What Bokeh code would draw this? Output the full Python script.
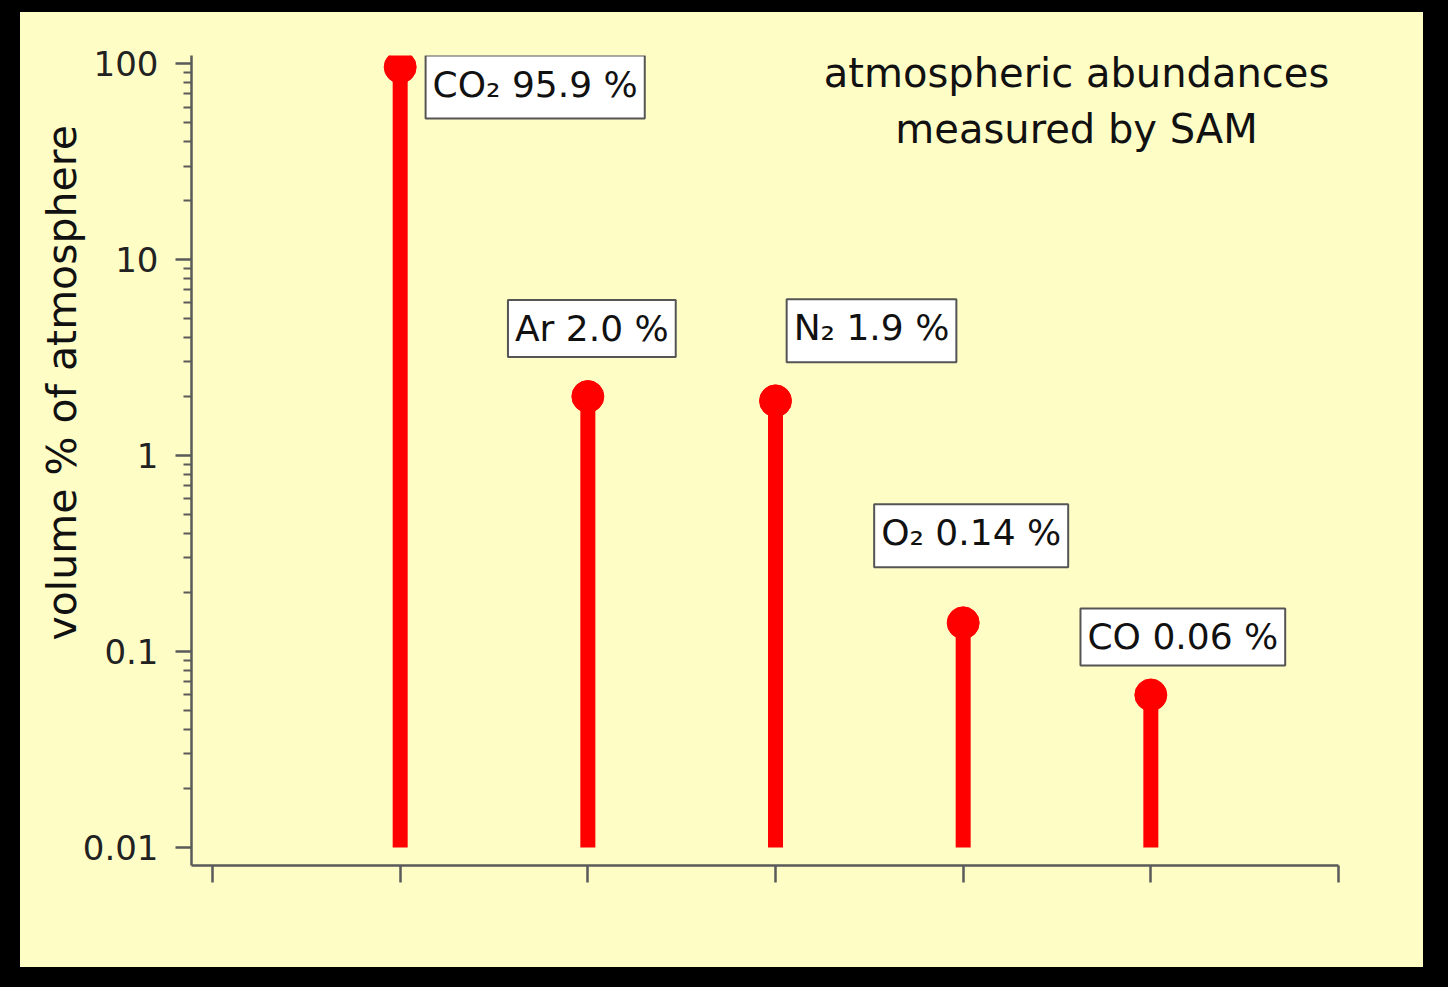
import math
from bokeh.plotting import figure
from bokeh.models import Range1d, FixedTicker, Label, ColumnDataSource, Title
from bokeh.layouts import column
from bokeh.embed import file_html
from bokeh.resources import INLINE

# ---------------- data ----------------
gases = ["CO₂", "Ar", "N₂", "O₂", "CO"]
abundance = [95.9, 2.0, 1.9, 0.14, 0.06]          # volume %
positions = [1, 2, 3, 4, 5]
baseline = 0.01
y_major = [0.01, 0.1, 1, 10, 100]
y_major_labels = ["0.01", "0.1", "1", "10", "100"]
x_ticks = [0, 1, 2, 3, 4, 5, 6]
title_lines = ["atmospheric abundances", "measured by SAM"]
y_label = "volume % of atmosphere"

# ---------------- layout / style ----------------
BG = "#FEFDC6"
FONT = "DejaVu Sans"
label_dx = [135, 4, 96, 8, 32]     # screen px offsets of label boxes
label_dy = [-20, 68, 70, 87, 58]
label_pad_bottom = [14, 8, 14, 14, 8]

src = ColumnDataSource(dict(
    x=positions, v=abundance, base=[baseline] * len(abundance),
))

p = figure(width=1403, height=955, y_axis_type="log",
           x_range=Range1d(-0.112, 6), y_range=Range1d(0.00809, 109.9),
           output_backend="svg", toolbar_location=None,
           min_border_left=171, min_border_right=85,
           min_border_top=43, min_border_bottom=102,
           background_fill_color=BG, border_fill_color=BG,
           outline_line_color=None, margin=(12, 25, 20, 20),
           styles={"background-color": BG})
p.grid.visible = False

# y axis
minor = [m * 10 ** e for e in range(-2, 2) for m in range(2, 10)]
ya = p.yaxis[0]
ya.ticker = FixedTicker(ticks=y_major, minor_ticks=minor)
ya.major_label_overrides = dict(zip(y_major, y_major_labels))
ya.axis_line_color = "#5a5a5a"
ya.axis_line_width = 2.5
ya.major_tick_line_color = "#5a5a5a"
ya.major_tick_line_width = 2.5
ya.minor_tick_line_color = "#5a5a5a"
ya.minor_tick_line_width = 2
ya.major_tick_out = 16
ya.major_tick_in = 0
ya.minor_tick_out = 8
ya.minor_tick_in = 0
ya.major_label_standoff = 17
ya.major_label_text_font = FONT
ya.major_label_text_font_size = "34px"
ya.major_label_text_color = "#222222"

# x axis
xa = p.xaxis[0]
xa.ticker = FixedTicker(ticks=x_ticks, minor_ticks=[])
xa.major_label_overrides = {t: "" for t in x_ticks}
xa.major_label_text_font_size = "0px"
xa.axis_line_color = "#5a5a5a"
xa.axis_line_width = 2.5
xa.major_tick_line_color = "#5a5a5a"
xa.major_tick_line_width = 2.5
xa.major_tick_out = 17
xa.major_tick_in = 0
xa.minor_tick_out = 0

# y axis title, on the left side
p.add_layout(Title(text=y_label, align="left", offset=225, standoff=-13,
                   text_font=FONT, text_font_size="41px",
                   text_font_style="normal", text_color="#111111"), "left")

# stems and heads
p.segment(x0="x", y0="base", x1="x", y1="v", source=src,
          line_width=15, line_color="#FF0000", line_cap="butt")
p.scatter("x", "v", source=src, size=32, fill_color="#FF0000",
          line_color="#FF0000")

# value labels
for g, v, x, dx, dy, pb in zip(gases, abundance, positions, label_dx,
                               label_dy, label_pad_bottom):
    p.add_layout(Label(x=x, y=v, x_offset=dx, y_offset=dy,
                       text=f"{g} {v} %", text_align="center",
                       text_baseline="middle", text_font=FONT,
                       text_font_size="36px", text_color="#111111",
                       background_fill_color="white",
                       border_line_color="#555555", border_line_width=2,
                       padding=dict(left=7, right=7, top=8, bottom=pb)))

# title (two lines)
p.add_layout(Label(x=4.604, y=89.9, text=title_lines[0], text_align="center",
                   text_baseline="middle", text_font=FONT,
                   text_font_size="40px", text_color="#111111"))
p.add_layout(Label(x=4.604, y=46.6, text=title_lines[1], text_align="center",
                   text_baseline="middle", text_font=FONT,
                   text_font_size="40px", text_color="#111111"))

layout = column(p, styles={"background-color": "black"}, margin=0)

open("out.html", "w").write(file_html(layout, INLINE))
